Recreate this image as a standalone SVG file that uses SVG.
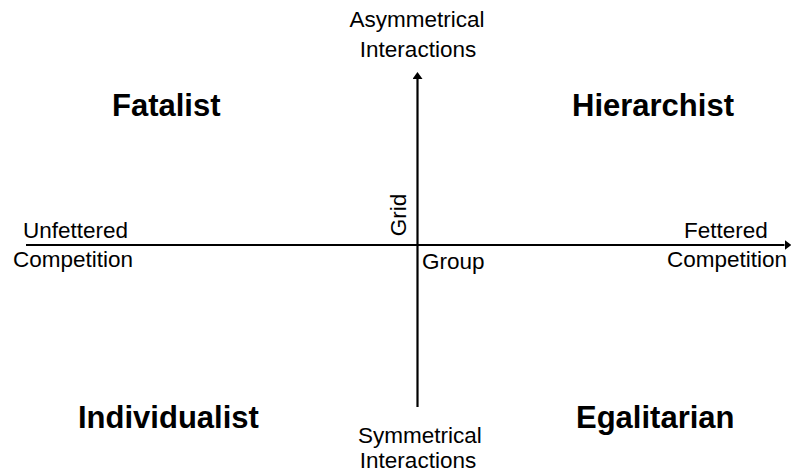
<svg xmlns="http://www.w3.org/2000/svg" width="791" height="473" viewBox="0 0 791 473">
<style>
.lbl{font-family:"Liberation Sans",Arial,sans-serif;font-size:22.5px;fill:#000}
.quad{font-family:"Liberation Sans",Arial,sans-serif;font-size:31px;font-weight:bold;fill:#000}
.axis{stroke:#000;stroke-width:2.2;fill:none}
</style>
<defs>
<marker id="ah" markerWidth="8" markerHeight="10" refX="0" refY="5" orient="auto" markerUnits="userSpaceOnUse">
<path d="M0,0 L7,5 L0,10 Z" fill="#000"/>
</marker>
</defs>
<rect width="791" height="473" fill="#fff"/>
<g id="connectors">
<line class="axis" x1="417.5" y1="407" x2="417.5" y2="79" marker-end="url(#ah)"/>
<line class="axis" x1="26" y1="245" x2="784.5" y2="245" marker-end="url(#ah)"/>
</g>
<g id="top-label"><text class="lbl" x="417" y="27" text-anchor="middle">Asymmetrical</text><text class="lbl" x="418" y="56.5" text-anchor="middle">Interactions</text></g>
<g id="bottom-label"><text class="lbl" x="420" y="443" text-anchor="middle">Symmetrical</text><text class="lbl" x="418" y="467.5" text-anchor="middle">Interactions</text></g>
<g id="left-label"><text class="lbl" x="23" y="238">Unfettered</text><text class="lbl" x="13" y="267">Competition</text></g>
<g id="right-label"><text class="lbl" x="684" y="238">Fettered</text><text class="lbl" x="667" y="267">Competition</text></g>
<g id="grid-label"><text class="lbl" transform="translate(406,215) rotate(-90)" text-anchor="middle">Grid</text></g>
<g id="group-label"><text class="lbl" x="422" y="269">Group</text></g>
<g id="fatalist"><text class="quad" x="112" y="115.5">Fatalist</text></g>
<g id="hierarchist"><text class="quad" x="572" y="115.5">Hierarchist</text></g>
<g id="individualist"><text class="quad" x="78" y="428">Individualist</text></g>
<g id="egalitarian"><text class="quad" x="576" y="428">Egalitarian</text></g>
</svg>
